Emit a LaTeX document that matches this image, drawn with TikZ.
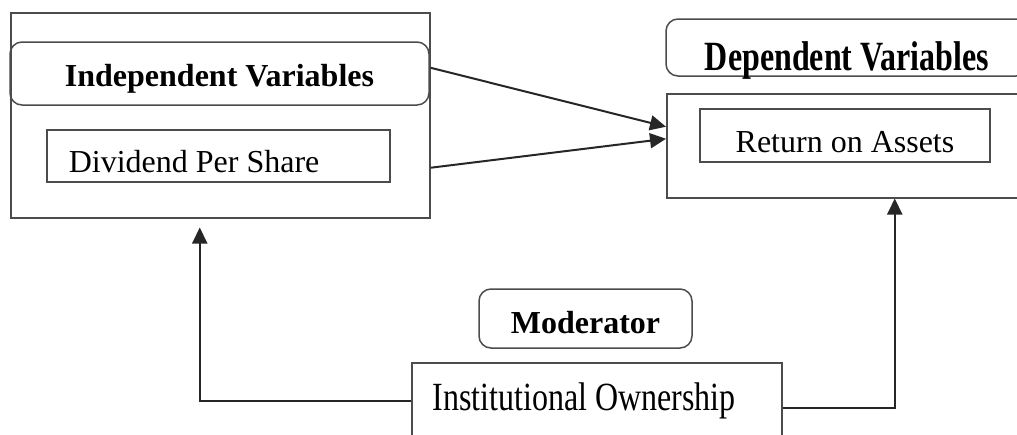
\documentclass[tikz,border=0pt]{standalone}
\usepackage{fontspec}
\setmainfont{Liberation Serif}
\usetikzlibrary{arrows.meta, positioning}
\tikzstyle{outer} = [rectangle, draw=black!70, line width=1.5pt, inner sep=0pt]
\tikzstyle{head} = [rectangle, rounded corners=12pt, draw=black!70, line width=1.5pt, inner sep=0pt, font=\fontsize{32}{38}\selectfont\bfseries]
\tikzstyle{var} = [rectangle, draw=black!70, line width=1.5pt, inner ysep=0pt, inner xsep=0pt]
\tikzstyle{arrow} = [line width=2pt, draw=black!85, -{Triangle[length=16pt,width=15pt]}]

\begin{document}
\begin{tikzpicture}[x=1pt, y=-1pt, font=\fontsize{32}{38}\selectfont]
\useasboundingbox (0,0) rectangle (1017,434);
\clip (0,0) rectangle (1017,434);

% Independent side
\node (ivouter) [outer, minimum width=419pt, minimum height=205pt, anchor=north west] at (10,12) {};
\node (ivhead) [head, minimum width=419pt, minimum height=63pt, text height=25pt, text depth=0pt, anchor=base] at (219.5,86) {Independent Variables};
\node (dps) [var, minimum height=52pt, inner xsep=22pt, text height=32pt, text depth=0pt, anchor=base west] at (46,172) {\makebox[299pt][l]{Dividend Per Share}};

% Dependent side
\node (dvhead) [head, minimum width=362pt, minimum height=57pt, text height=45pt, text depth=0pt, anchor=base] at (847,70) {\scalebox{1}[1.3]{Dependent Variables}};
\node (dvouter) [outer, minimum width=364pt, minimum height=104pt, anchor=north west] at (666,93) {};
\node (roa) [var, minimum width=290pt, minimum height=53pt, text height=34pt, text depth=0pt, anchor=base] at (845,152.5) {Return on Assets};

% Moderator
\node (mod) [head, minimum width=213pt, minimum height=59pt, text height=29pt, text depth=0pt, anchor=base] at (585.5,333) {Moderator};
\node (io) [var, minimum height=94pt, inner xsep=21pt, text height=20pt, text depth=20pt, anchor=base west] at (411,410) {\makebox[328pt][l]{\scalebox{1}[1.25]{Institutional Ownership}}};

% Arrows
\draw [arrow] ([yshift=47.5pt]ivouter.east) -- ([yshift=19pt]dvouter.west);
\draw [arrow] ([yshift=-52.5pt]ivouter.east) -- ([yshift=7pt]dvouter.west);
\draw [arrow] ([yshift=9pt]io.west) -| ([xshift=-20.5pt,yshift=-9pt]ivouter.south);
\draw [arrow] ([yshift=2pt]io.east) -| ([xshift=46pt]dvouter.south);

\end{tikzpicture}
\end{document}
